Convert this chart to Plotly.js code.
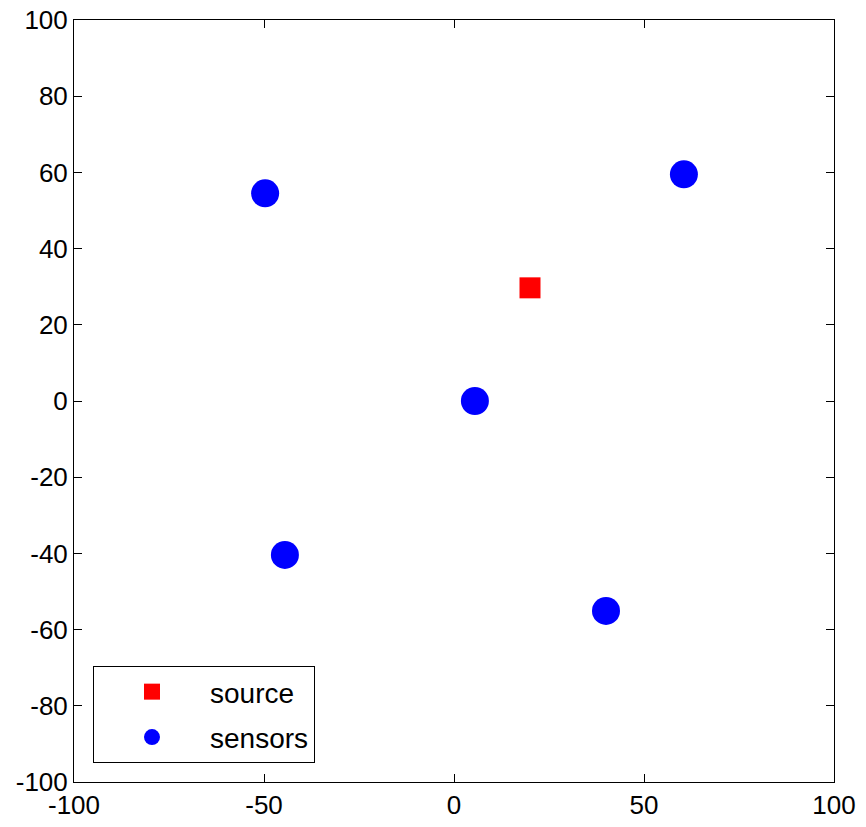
<!DOCTYPE html>
<html>
<head>
<meta charset="utf-8">
<script src="https://cdn.plot.ly/plotly-3.0.1.min.js"></script>
<style>html,body{margin:0;padding:0;background:#fff;}#chart{width:866px;height:827px;}</style>
</head>
<body>
<div id="chart"></div>
<script>
// Data
const sourceX = [20];
const sourceY = [29.7];
const sensorX = [-49.7, 60.5, 5.5, -44.5, 40];
const sensorY = [54.5, 59.5, 0, -40.4, -55.1];
const seriesNames = ["source", "sensors"];
const xTicks = [-100, -50, 0, 50, 100];
const yTicks = [-100, -80, -60, -40, -20, 0, 20, 40, 60, 80, 100];

const traces = [
  {
    x: sourceX, y: sourceY, name: seriesNames[0], type: 'scatter', mode: 'markers',
    legendgroup: 'a',
    marker: {symbol: 'square', size: 21, color: '#ff0000', line: {width: 0}}
  },
  {
    x: sensorX, y: sensorY, name: seriesNames[1], type: 'scatter', mode: 'markers',
    legendgroup: 'b',
    marker: {symbol: 'circle', size: 28, color: '#0000ff', line: {width: 0}}
  }
];

const axisCommon = {
  showline: true, linecolor: '#000', linewidth: 1, mirror: 'ticks',
  ticks: 'inside', ticklen: 8, tickwidth: 1, tickcolor: '#000',
  showgrid: false, zeroline: false, fixedrange: true,
  tickfont: {family: 'Liberation Sans, Arial, sans-serif', size: 26, color: '#000'}
};

const layout = {
  width: 866, height: 827,
  margin: {l: 74, r: 32, t: 20, b: 45},
  paper_bgcolor: '#fff', plot_bgcolor: '#fff',
  showlegend: true,
  xaxis: Object.assign({}, axisCommon, {range: [-100, 100], tickmode: 'array', tickvals: xTicks, ticktext: xTicks.map(String)}),
  yaxis: Object.assign({}, axisCommon, {range: [-100, 100], tickmode: 'array', tickvals: yTicks, ticktext: yTicks.map(String)}),
  legend: {
    x: 0.025, y: 0.025, xanchor: 'left', yanchor: 'bottom',
    bgcolor: '#fff', bordercolor: '#000', borderwidth: 1,
    font: {family: 'Liberation Sans, Arial, sans-serif', size: 28, color: '#000'},
    itemwidth: 106, tracegroupgap: 6, traceorder: 'grouped'
  }
};

Plotly.newPlot('chart', traces, layout, {displayModeBar: false, staticPlot: true});
</script>
</body>
</html>
